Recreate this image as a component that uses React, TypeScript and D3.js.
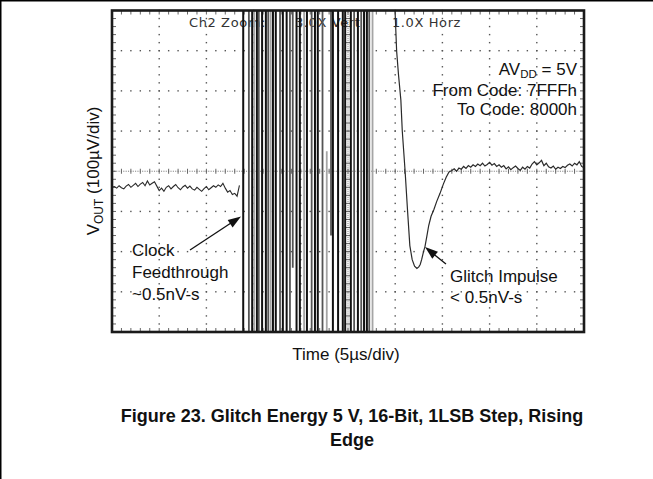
import React from "react";
import * as d3 from "d3";

// ---------- data (in scope divisions: time 0..10 div, voltage -4..4 div) ----------
const leftStep = 0.05;
const leftV: number[] = [
  -0.40, -0.38, -0.42, -0.36, -0.41, -0.44, -0.37, -0.33, -0.40, -0.35,
  -0.30, -0.38, -0.32, -0.28, -0.36, -0.24, -0.34, -0.30, -0.26, -0.37,
  -0.48, -0.42, -0.50, -0.40, -0.36, -0.44, -0.38, -0.33, -0.41, -0.46,
  -0.39, -0.35, -0.42, -0.37, -0.44, -0.47, -0.40, -0.45, -0.50, -0.43,
  -0.38, -0.46, -0.41, -0.36, -0.40, -0.34, -0.38, -0.30, -0.42, -0.52,
  -0.48, -0.58, -0.55, -0.62, -0.35,
];

const glitchT: number[] = [
  5.99, 6.03, 6.07, 6.12, 6.15, 6.21, 6.26, 6.31, 6.36, 6.41, 6.46, 6.5, 6.53,
  6.56, 6.6, 6.63, 6.67, 6.71, 6.76, 6.82, 6.88, 6.95, 7.02, 7.08, 7.14,
];
const glitchV: number[] = [
  4.2, 3.0, 2.4, 1.77, 1.0, 0.0, -0.95, -1.85, -2.2, -2.36, -2.42, -2.38, -2.32,
  -2.2, -2.0, -1.88, -1.62, -1.35, -1.12, -0.95, -0.75, -0.55, -0.32, -0.15, -0.02,
];

const rightStart = 7.2;
const rightStep = 0.05;
const rightV: number[] = [
  0.02, 0.06, 0.0, 0.08, 0.05, 0.12, 0.07, 0.14, 0.1, 0.16,
  0.12, 0.18, 0.14, 0.2, 0.13, 0.17, 0.22, 0.15, 0.19, 0.12,
  0.16, 0.1, 0.14, 0.06, 0.11, 0.04, 0.09, 0.13, 0.07, 0.02,
  0.1, 0.05, 0.12, 0.08, 0.18, 0.24, 0.16, 0.21, 0.27, 0.14,
  0.2, 0.11, 0.08, 0.13, 0.05, 0.1, 0.07, 0.12, 0.09, 0.15,
  0.18, 0.13, 0.2, 0.16, 0.24, 0.12, 0.09,
];

// the clipped, off-screen oscillation of the burst: one stroke per swing
const burstT: number[] = [
  2.78, 2.9, 2.97, 3.01, 3.07, 3.11, 3.18, 3.26, 3.31, 3.36, 3.41, 3.47, 3.56,
  3.62, 3.7, 3.77, 3.83, 3.91, 3.98, 4.07, 4.13, 4.23, 4.3, 4.36, 4.46, 4.55,
  4.64, 4.68, 4.79, 4.89, 4.94, 5.06, 5.13, 5.21, 5.28, 5.34, 5.4, 5.45, 5.52,
];
const burstTop: number[] = [
  4.2, 4.2, 4.2, 4.2, 4.2, 4.2, 4.2, 4.2, 4.2, 4.2, 4.2, 4.2, 4.2,
  4.2, 4.2, 4.2, 4.2, 4.2, 4.2, 4.2, 4.2, 4.2, 4.2, 4.2, 4.2, 0.5,
  4.2, 4.2, 4.2, 4.2, 4.2, 4.2, 4.2, 4.2, 4.2, 4.2, 4.2, 4.2, 4.2,
];
const burstBot: number[] = [
  -4.2, -4.2, -4.2, -4.2, -4.2, -4.2, -4.2, -4.2, -4.2, -4.2, -4.2, -4.2, -4.2,
  -4.2, -4.2, -4.2, -2.4, -4.2, -4.2, -4.2, -4.2, -4.2, -4.2, -4.2, -4.2, -4.2,
  -1.6, -4.2, -4.2, -4.2, -4.2, -4.2, -4.2, -4.2, -4.2, -4.2, -4.2, -4.2, -4.2,
];
const burstShade: string[] = [
  "k", "d", "k", "l", "k", "d", "k", "k", "d", "l", "k", "k", "d",
  "k", "k", "d", "d", "k", "k", "l", "k", "d", "k", "k", "d", "l",
  "d", "k", "k", "k", "k", "k", "d", "k", "d", "k", "k", "d", "l",
];

const scopeLabels: string[] = ["Ch2 Zoom:", "3.0X Vert", "1.0X Horz"];
const condLines: string[] = ["From Code: 7FFFh", "To Code: 8000h"];
const clockLines: string[] = ["Clock", "Feedthrough", "~0.5nV-s"];
const glitchLines: string[] = ["Glitch Impulse", "< 0.5nV-s"];
const xLabel = "Time (5\u00b5s/div)";
const captionLines: string[] = [
  "Figure 23. Glitch Energy 5 V, 16-Bit, 1LSB Step, Rising",
  "Edge",
];

// ---------- layout ----------
const W = 653;
const H = 479;
const PL = 112;
const PR = 584;
const PT = 10.5;
const PB = 332;

const shadeColor: Record<string, string> = { k: "#111", d: "#555", l: "#a5a5a5" };
const shadeWidth: Record<string, number> = { k: 2.0, d: 1.8, l: 1.8 };

export default function App() {
  const x = d3.scaleLinear().domain([0, 10]).range([PL, PR]);
  const y = d3.scaleLinear().domain([-4, 4]).range([PB, PT]);
  const line = d3
    .line<[number, number]>()
    .x((d) => x(d[0]))
    .y((d) => y(d[1]));

  const leftPts: [number, number][] = leftV.map((v, i) => [i * leftStep, v]);
  const rightPts: [number, number][] = [
    ...glitchT.map((t, i) => [t, glitchV[i]] as [number, number]),
    ...rightV.map((v, i) => [rightStart + i * rightStep, v] as [number, number]),
  ];

  // grid dots
  const dots: { cx: number; cy: number }[] = [];
  const minorX = d3.range(0, 10.001, 0.2);
  const minorY = d3.range(-4, 4.001, 0.2);
  for (let i = 1; i < 10; i++) {
    if (i === 5) continue;
    minorY.forEach((v) => dots.push({ cx: x(i), cy: y(v) }));
  }
  for (let k = -3; k <= 3; k++) {
    if (k === 0) continue;
    minorX.forEach((t) => dots.push({ cx: x(t), cy: y(k) }));
  }
  // center crosshair fine dots
  const fineX = d3.range(0, 10.001, 0.05);
  const fineY = d3.range(-4, 4.001, 0.05);
  const fine: { cx: number; cy: number }[] = [];
  fineX.forEach((t) => fine.push({ cx: x(t), cy: y(0) }));
  fineY.forEach((v) => fine.push({ cx: x(5), cy: y(v) }));

  const sans = "'Liberation Sans', Arial, Helvetica, sans-serif";
  const annoSize = 17;

  const arrowHead = (x1: number, y1: number, x2: number, y2: number, len = 13, wid = 4.5) => {
    const a = Math.atan2(y2 - y1, x2 - x1);
    const bx = x2 - len * Math.cos(a);
    const by = y2 - len * Math.sin(a);
    const px = -Math.sin(a) * wid;
    const py = Math.cos(a) * wid;
    return `M${x2},${y2}L${bx + px},${by + py}L${bx - px},${by - py}Z`;
  };

  return (
    <svg
      width={W}
      height={H}
      style={{ position: "absolute", left: 0, top: 0, background: "#fff" }}
      xmlns="http://www.w3.org/2000/svg"
    >
      <rect x={0} y={0} width={W} height={H} fill="#fff" />
      {/* outer figure frame */}
      <path d={`M0.75,${H}V0.75H${W}`} fill="none" stroke="#000" strokeWidth={1.5} />

      <defs>
        <clipPath id="plotClip">
          <rect x={PL} y={PT} width={PR - PL} height={PB - PT} />
        </clipPath>
      </defs>

      {/* grid */}
      <g fill="#555">
        {dots.map((d, i) => (
          <rect key={i} x={d.cx - 0.7} y={d.cy - 0.7} width={1.4} height={1.4} />
        ))}
      </g>
      <g fill="#8a8a8a">
        {fine.map((d, i) => (
          <rect key={i} x={d.cx - 0.55} y={d.cy - 0.55} width={1.1} height={1.1} />
        ))}
      </g>
      <g stroke="#666" strokeWidth={1}>
        {minorX.map((t, i) => (
          <line key={"cx" + i} x1={x(t)} x2={x(t)} y1={y(0) - 2.5} y2={y(0) + 2.5} />
        ))}
        {minorY.map((v, i) => (
          <line key={"cy" + i} x1={x(5) - 2.5} x2={x(5) + 2.5} y1={y(v)} y2={y(v)} />
        ))}
        {/* border ticks */}
        {minorX.map((t, i) => (
          <g key={"bx" + i}>
            <line x1={x(t)} x2={x(t)} y1={PT} y2={PT + 4} />
            <line x1={x(t)} x2={x(t)} y1={PB - 4} y2={PB} />
          </g>
        ))}
        {minorY.map((v, i) => (
          <g key={"by" + i}>
            <line x1={PL} x2={PL + 4} y1={y(v)} y2={y(v)} />
            <line x1={PR - 4} x2={PR} y1={y(v)} y2={y(v)} />
          </g>
        ))}
      </g>

      {/* scope header text */}
      <g fontFamily="'DejaVu Sans', sans-serif" fontSize={13} fill="#333" letterSpacing={0.6}>
        <text x={189} y={27}>{scopeLabels[0]}</text>
        <text x={295} y={27}>{scopeLabels[1]}</text>
        <text x={392} y={27}>{scopeLabels[2]}</text>
      </g>

      {/* traces */}
      <g clipPath="url(#plotClip)">
        {burstT.map((t, i) => (
          <line
            key={i}
            x1={x(t)}
            x2={x(t)}
            y1={y(burstTop[i])}
            y2={y(burstBot[i])}
            stroke={shadeColor[burstShade[i]]}
            strokeWidth={shadeWidth[burstShade[i]]}
          />
        ))}
        <path d={line(leftPts) || ""} fill="none" stroke="#2a2a2a" strokeWidth={1.1} />
        <path d={line(rightPts) || ""} fill="none" stroke="#2a2a2a" strokeWidth={1.2} />
      </g>

      {/* plot border */}
      <rect x={PL} y={PT} width={PR - PL} height={PB - PT} fill="none" stroke="#1a1a1a" strokeWidth={2.6} />

      {/* annotations */}
      <g fontFamily={sans} fontSize={annoSize} fill="#111">
        <text x={577} y={75} textAnchor="end">
          AV<tspan fontSize={11.5} dy={3}>DD</tspan>
          <tspan dy={-3}> = 5V</tspan>
        </text>
        {condLines.map((s, i) => (
          <text key={s} x={577} y={96 + i * 19} textAnchor="end">
            {s}
          </text>
        ))}
        {clockLines.map((s, i) => (
          <text key={s} x={132} y={256 + i * 22}>
            {s}
          </text>
        ))}
        {glitchLines.map((s, i) => (
          <text key={s} x={450} y={282 + i * 21}>
            {s}
          </text>
        ))}
        <text x={346} y={360} textAnchor="middle" fontSize={17}>
          {xLabel}
        </text>
        <text transform={`translate(99,171) rotate(-90)`} textAnchor="middle" fontSize={17}>
          V<tspan fontSize={12} dy={4}>OUT</tspan>
          <tspan dy={-4}> (100{"\u00b5"}V/div)</tspan>
        </text>
      </g>

      {/* arrows */}
      <g stroke="#111" fill="#111">
        <line x1={190} y1={250} x2={234} y2={221} strokeWidth={1.3} />
        <path d={arrowHead(190, 250, 241, 216.5)} stroke="none" />
        <line x1={446} y1={264} x2={431} y2={252} strokeWidth={1.3} />
        <path d={arrowHead(446, 264, 425, 247)} stroke="none" />
      </g>

      {/* caption */}
      <g fontFamily={sans} fontSize={18} fontWeight="bold" fill="#111" textAnchor="middle">
        {captionLines.map((s, i) => (
          <text key={s} x={352} y={422 + i * 24}>
            {s}
          </text>
        ))}
      </g>
    </svg>
  );
}
